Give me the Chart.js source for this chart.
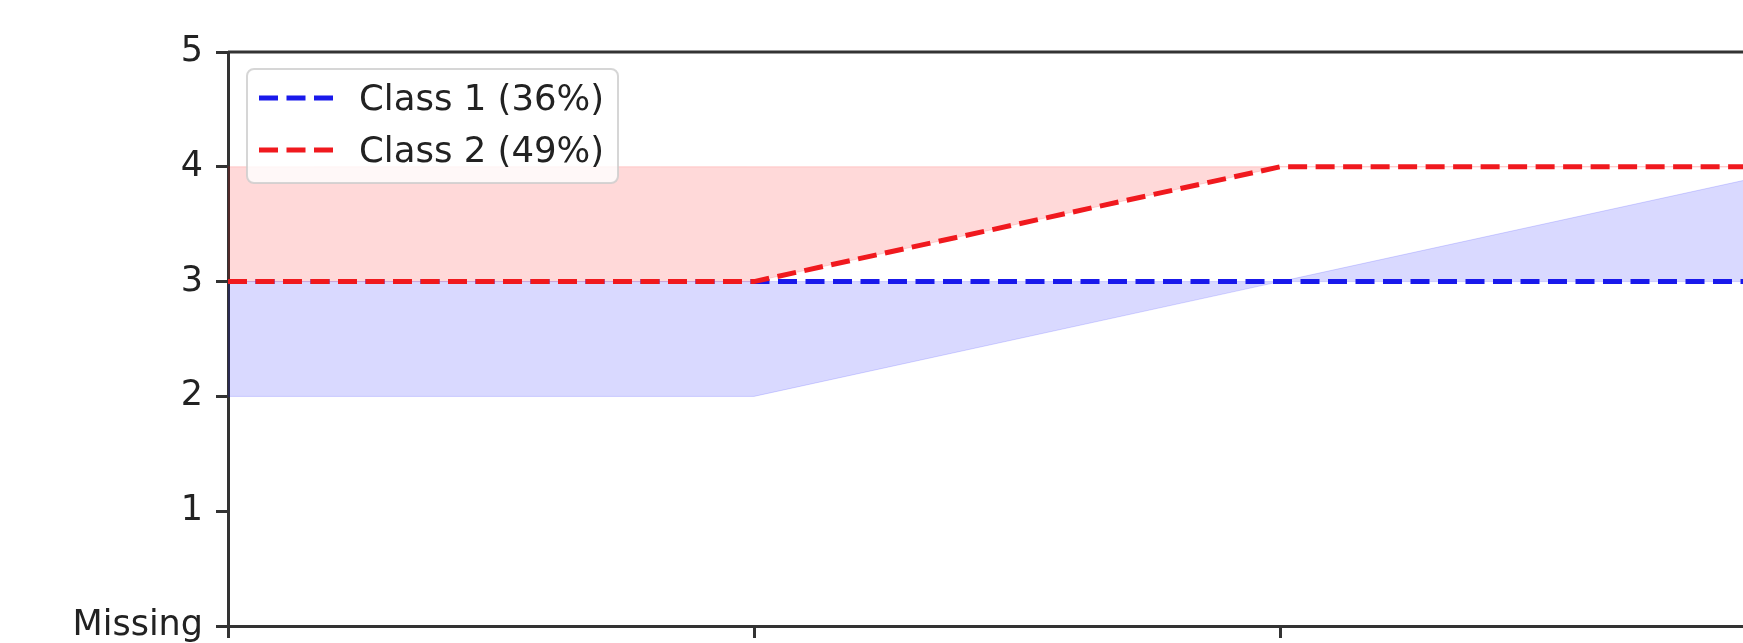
<!DOCTYPE html>
<html>
<head>
<meta charset="utf-8">
<script src="https://cdn.jsdelivr.net/npm/chart.js@4.4.1/dist/chart.umd.min.js"></script>
<style>
  html, body { margin: 0; padding: 0; background: #fff; overflow: hidden; width: 1743px; height: 643px; }
  #wrap { position: absolute; left: 0; top: 0; width: 1900px; height: 643px; }
</style>
</head>
<body>
<div id="wrap"><canvas id="c" width="1900" height="643" style="width:1900px;height:643px"></canvas></div>
<script>
// ---- data ----
const xPositions = [0, 1, 2, 3];
const yTickLabels = ['Missing', '1', '2', '3', '4', '5'];
const seriesLabels = ['Class 1 (36%)', 'Class 2 (49%)'];
const class1Median = [3, 3, 3, 3];
const class1Lower  = [2, 2, 3, 3];
const class1Upper  = [3, 3, 3, 4];
const class2Median = [3, 3, 4, 4];
const class2Lower  = [3, 3, 4, 4];
const class2Upper  = [4, 4, 4, 4];

const BLUE = 'rgb(25,25,235)';
const RED = 'rgb(240,25,30)';
const BLUE_FILL = 'rgba(0,0,255,0.15)';
const RED_FILL = 'rgba(255,0,0,0.15)';
const AXIS = '#333333';
const FONT = "'DejaVu Sans', sans-serif";

const pts = arr => arr.map((v, i) => ({ x: xPositions[i], y: v }));

const datasets = [
  // index 0: class 1 upper band (fills to index 1)
  { data: pts(class1Upper), borderColor: BLUE_FILL, borderWidth: 1, backgroundColor: BLUE_FILL, fill: 1, pointRadius: 0, order: 10 },
  // index 1: class 1 lower band
  { data: pts(class1Lower), borderColor: BLUE_FILL, borderWidth: 1, backgroundColor: BLUE_FILL, fill: false, pointRadius: 0, order: 10 },
  // index 2: class 2 upper band (fills to index 3)
  { data: pts(class2Upper), borderColor: RED_FILL, borderWidth: 1, backgroundColor: RED_FILL, fill: 3, pointRadius: 0, order: 10 },
  // index 3: class 2 lower band
  { data: pts(class2Lower), borderColor: RED_FILL, borderWidth: 1, backgroundColor: RED_FILL, fill: false, pointRadius: 0, order: 10 },
  // median lines
  { label: seriesLabels[0], isLine: true, data: pts(class1Median), borderColor: BLUE, borderWidth: 5, borderDash: [19, 8.5], fill: false, pointRadius: 0, order: 2 },
  { label: seriesLabels[1], isLine: true, data: pts(class2Median), borderColor: RED, borderWidth: 5, borderDash: [19, 8.5], fill: false, pointRadius: 0, order: 1 }
];

const framePlugin = {
  id: 'frame',
  afterDatasetsDraw(chart) {
    const { ctx, chartArea: a } = chart;
    ctx.save();
    ctx.strokeStyle = AXIS;
    ctx.lineWidth = 3;
    ctx.beginPath();
    ctx.moveTo(a.left, a.top);
    ctx.lineTo(a.right, a.top);
    ctx.lineTo(a.right, a.bottom);
    ctx.stroke();
    ctx.restore();
  }
};

const legendPlugin = {
  id: 'boxLegend',
  afterDraw(chart) {
    const ctx = chart.ctx;
    const items = chart.data.datasets.filter(d => d.isLine);
    const x0 = 247, y0 = 69, w = 371, h = 114, r = 7;
    ctx.save();
    ctx.beginPath();
    ctx.moveTo(x0 + r, y0);
    ctx.arcTo(x0 + w, y0, x0 + w, y0 + h, r);
    ctx.arcTo(x0 + w, y0 + h, x0, y0 + h, r);
    ctx.arcTo(x0, y0 + h, x0, y0, r);
    ctx.arcTo(x0, y0, x0 + w, y0, r);
    ctx.closePath();
    ctx.fillStyle = 'rgba(255,255,255,0.8)';
    ctx.fill();
    ctx.strokeStyle = 'rgba(204,204,204,0.8)';
    ctx.lineWidth = 2;
    ctx.stroke();
    items.forEach((d, i) => {
      const cy = 98 + i * 52;
      ctx.beginPath();
      ctx.setLineDash(d.borderDash);
      ctx.strokeStyle = d.borderColor;
      ctx.lineWidth = d.borderWidth;
      ctx.moveTo(259, cy);
      ctx.lineTo(333, cy);
      ctx.stroke();
      ctx.setLineDash([]);
      ctx.fillStyle = '#222';
      ctx.font = '35.5px ' + FONT;
      ctx.textBaseline = 'alphabetic';
      ctx.textAlign = 'left';
      ctx.fillText(d.label, 359, cy + 12);
    });
    ctx.restore();
  }
};

new Chart(document.getElementById('c'), {
  type: 'line',
  data: { datasets },
  options: {
    responsive: false,
    animation: false,
    devicePixelRatio: 1,
    layout: { padding: { top: 52, right: 94, left: 0, bottom: 0 } },
    plugins: { legend: { display: false }, tooltip: { enabled: false }, filler: { propagate: false } },
    elements: { line: { tension: 0, borderCapStyle: 'butt' } },
    scales: {
      x: {
        type: 'linear', min: 0, max: 3,
        ticks: { display: false, stepSize: 1 },
        grid: { drawOnChartArea: false, drawTicks: true, tickLength: 12, color: AXIS, lineWidth: 3 },
        border: { display: true, color: AXIS, width: 3 },
        afterFit(s) { s.height = 17; s.paddingLeft = 0; s.paddingRight = 0; }
      },
      y: {
        type: 'linear', min: 0, max: 5,
        ticks: {
          stepSize: 1, padding: 13, color: '#222',
          font: { family: FONT, size: 35 },
          callback: v => yTickLabels[v]
        },
        grid: { drawOnChartArea: false, drawTicks: true, tickLength: 12, color: AXIS, lineWidth: 3 },
        border: { display: true, color: AXIS, width: 3 },
        afterFit(s) { s.width = 228; s.paddingTop = 0; s.paddingBottom = 0; }
      }
    }
  },
  plugins: [framePlugin, legendPlugin]
});
</script>
</body>
</html>
